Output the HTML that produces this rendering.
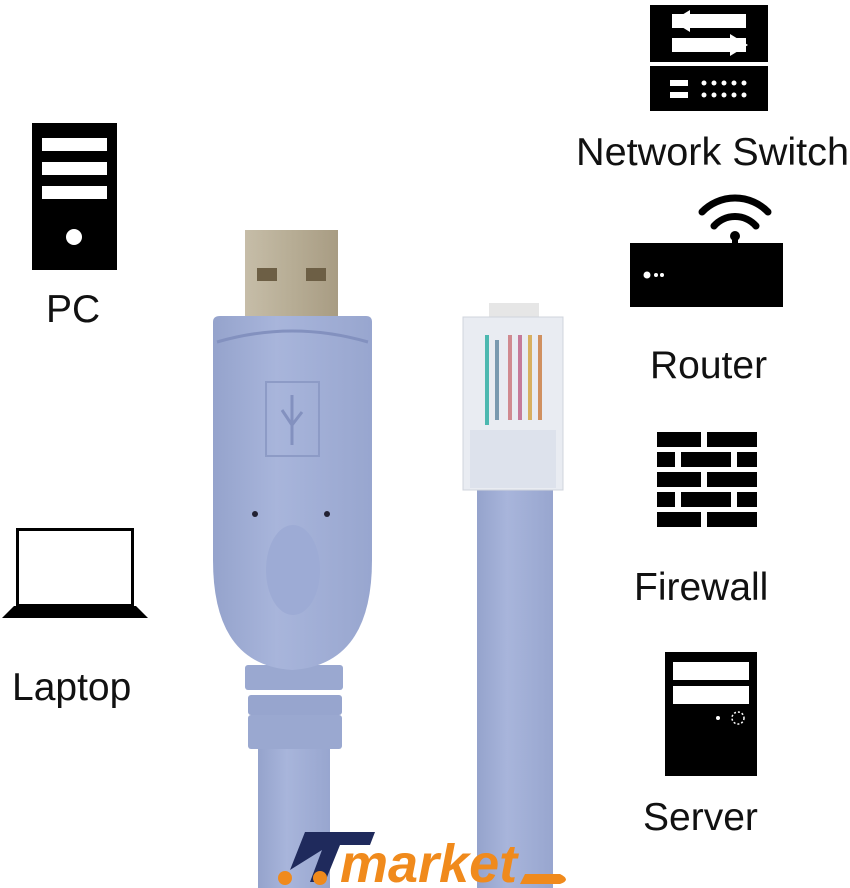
<!DOCTYPE html>
<html><head><style>
html,body{margin:0;padding:0;background:#fff;}
svg{display:block;}
text{font-family:"Liberation Sans",sans-serif;fill:#111;}
</style></head><body>
<svg width="850" height="888" viewBox="0 0 850 888" xmlns="http://www.w3.org/2000/svg">
<defs>
<linearGradient id="b" x1="0" x2="1"><stop offset="0" stop-color="#95a3cc"/><stop offset="0.4" stop-color="#a8b5db"/><stop offset="1" stop-color="#98a6cf"/></linearGradient>
<linearGradient id="m" x1="0" x2="1"><stop offset="0" stop-color="#c6bda8"/><stop offset="0.5" stop-color="#b7ad95"/><stop offset="1" stop-color="#a89c83"/></linearGradient>
</defs>
<!-- Network switch -->
<rect x="650" y="5" width="118" height="106" fill="#000"/>
<rect x="672" y="14" width="74" height="14" fill="#fff"/>
<rect x="672" y="38" width="74" height="14" fill="#fff"/>
<polygon points="672,21 690,10 690,32" fill="#fff"/>
<polygon points="748,45 730,34 730,56" fill="#fff"/>
<rect x="650" y="62" width="118" height="4" fill="#fff"/>
<rect x="670" y="80" width="18" height="6" fill="#fff"/><rect x="670" y="92" width="18" height="6" fill="#fff"/>
<g fill="#fff"><circle cx="704" cy="83" r="2.5"/><circle cx="714" cy="83" r="2.5"/><circle cx="724" cy="83" r="2.5"/><circle cx="734" cy="83" r="2.5"/><circle cx="744" cy="83" r="2.5"/><circle cx="704" cy="95" r="2.5"/><circle cx="714" cy="95" r="2.5"/><circle cx="724" cy="95" r="2.5"/><circle cx="734" cy="95" r="2.5"/><circle cx="744" cy="95" r="2.5"/></g>
<text x="576" y="165" font-size="39" textLength="273" lengthAdjust="spacingAndGlyphs">Network Switch</text>
<!-- PC -->
<rect x="32" y="123" width="85" height="147" fill="#000"/>
<rect x="42" y="138" width="65" height="13" fill="#fff"/>
<rect x="42" y="162" width="65" height="13" fill="#fff"/>
<rect x="42" y="186" width="65" height="13" fill="#fff"/>
<circle cx="74" cy="237" r="8" fill="#fff"/>
<text x="46" y="322" font-size="39">PC</text>
<!-- Router -->
<g fill="none" stroke="#000" stroke-width="7" stroke-linecap="round">
<path d="M702 212 A46 46 0 0 1 768 212"/>
<path d="M714 226 A28 28 0 0 1 756 226"/>
</g>
<circle cx="735" cy="236" r="5" fill="#000"/>
<rect x="732" y="236" width="6" height="10" fill="#000"/>
<rect x="630" y="243" width="153" height="64" fill="#000"/>
<circle cx="647" cy="275" r="3.5" fill="#fff"/><circle cx="656" cy="275" r="2" fill="#fff"/><circle cx="662" cy="275" r="2" fill="#fff"/>
<text x="650" y="378" font-size="39">Router</text>
<!-- Firewall -->
<g fill="#000">
<rect x="657" y="432" width="44" height="15"/><rect x="707" y="432" width="50" height="15"/>
<rect x="657" y="452" width="18" height="15"/><rect x="681" y="452" width="50" height="15"/><rect x="737" y="452" width="20" height="15"/>
<rect x="657" y="472" width="44" height="15"/><rect x="707" y="472" width="50" height="15"/>
<rect x="657" y="492" width="18" height="15"/><rect x="681" y="492" width="50" height="15"/><rect x="737" y="492" width="20" height="15"/>
<rect x="657" y="512" width="44" height="15"/><rect x="707" y="512" width="50" height="15"/>
</g>
<text x="634" y="600" font-size="39">Firewall</text>
<!-- Laptop -->
<rect x="17.5" y="529.5" width="115" height="76" fill="none" stroke="#000" stroke-width="3"/>
<polygon points="14,606 136,606 148,618 2,618" fill="#000"/>
<text x="12" y="700" font-size="39">Laptop</text>
<!-- Server -->
<rect x="665" y="652" width="92" height="124" fill="#000"/>
<rect x="673" y="662" width="76" height="18" fill="#fff"/>
<rect x="673" y="686" width="76" height="18" fill="#fff"/>
<circle cx="718" cy="718" r="2" fill="#fff"/><circle cx="738" cy="718" r="6" fill="none" stroke="#fff" stroke-width="1.5" stroke-dasharray="2 2"/>
<text x="643" y="830" font-size="39">Server</text>
<!-- USB cable -->
<rect x="258" y="740" width="72" height="148" fill="url(#b)"/>
<rect x="245" y="665" width="98" height="25" rx="3" fill="#9aa8d0"/>
<rect x="248" y="695" width="94" height="20" rx="3" fill="#97a5ce"/>
<rect x="248" y="715" width="94" height="34" rx="3" fill="#9aa8d0"/>
<rect x="245" y="230" width="93" height="90" fill="url(#m)"/>
<rect x="257" y="268" width="20" height="13" fill="#6d5f45"/><rect x="306" y="268" width="20" height="13" fill="#6d5f45"/>
<path d="M213 322 Q213 316 220 316 L366 316 Q372 316 372 322 L372 560 Q372 665 292 670 Q213 665 213 560 Z" fill="url(#b)"/>
<path d="M217 342 Q292 320 368 342" fill="none" stroke="#8391bf" stroke-width="3"/>
<rect x="266" y="382" width="53" height="74" fill="none" stroke="#8d9bc6" stroke-width="2"/>
<path d="M292 395 L292 445 M282 410 L292 425 L302 412" fill="none" stroke="#8391bf" stroke-width="3"/>
<circle cx="255" cy="514" r="3" fill="#223"/><circle cx="327" cy="514" r="3" fill="#223"/>
<ellipse cx="293" cy="570" rx="27" ry="45" fill="#9dabd5"/>
<!-- RJ45 -->
<rect x="477" y="485" width="76" height="403" fill="url(#b)"/>
<rect x="489" y="303" width="50" height="15" fill="#e6e6e6"/>
<rect x="463" y="317" width="100" height="173" fill="#e9ecf2" stroke="#d0d4dc"/>
<g stroke-width="4"><line x1="487" y1="335" x2="487" y2="425" stroke="#4cb8b0"/><line x1="497" y1="340" x2="497" y2="420" stroke="#7a9ab0"/><line x1="510" y1="335" x2="510" y2="420" stroke="#d08a90"/><line x1="520" y1="335" x2="520" y2="420" stroke="#c57a9a"/><line x1="530" y1="335" x2="530" y2="420" stroke="#d8b060"/><line x1="540" y1="335" x2="540" y2="420" stroke="#d09060"/></g>
<rect x="470" y="430" width="86" height="58" fill="#dde2ec"/>
<!-- logo -->
<text x="340" y="882" font-size="54" font-weight="bold" font-style="italic" style="fill:#f08a1c">market</text>
<path d="M290 870 L305 832 L375 832 L370 845 L340 845 L325 882 L310 882 L322 850 Z" fill="#1f2a5c"/>
<circle cx="285" cy="878" r="7" fill="#f08a1c"/><circle cx="320" cy="878" r="7" fill="#f08a1c"/>
<path d="M525 874 L560 874 Q572 880 560 884 L520 884 Z" fill="#f08a1c"/>
</svg>
</body></html>
